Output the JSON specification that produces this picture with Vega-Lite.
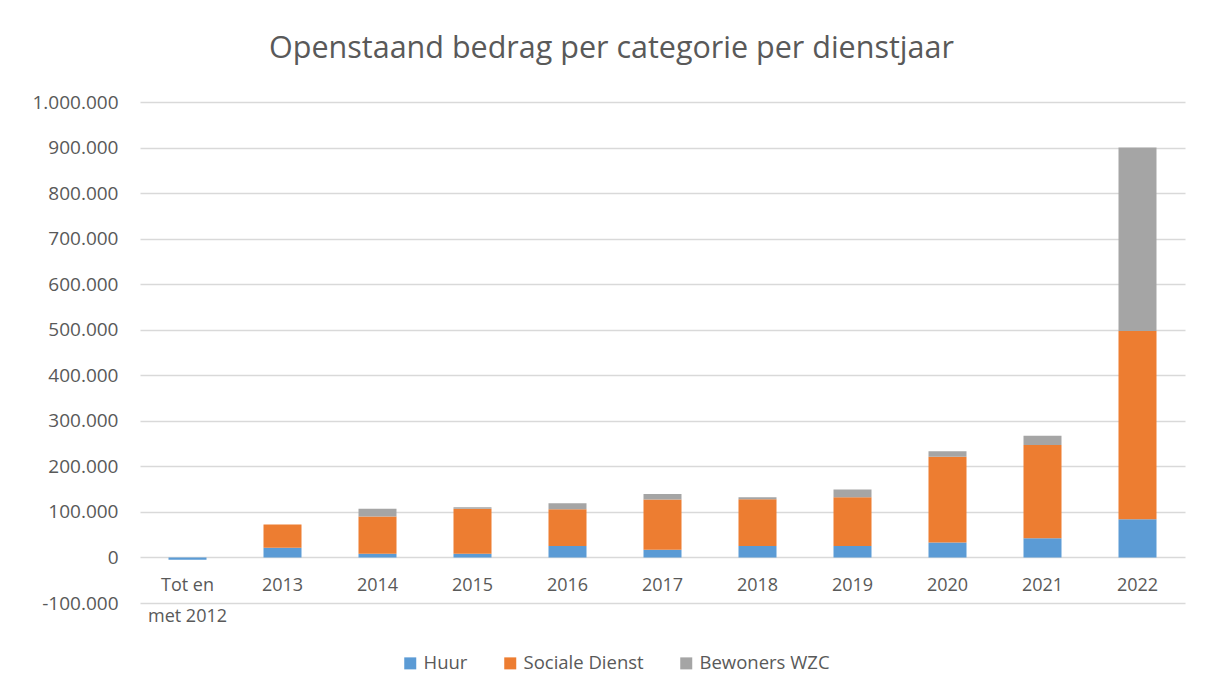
{
  "$schema": "https://vega.github.io/schema/vega-lite/v6.json",
  "autosize": "none",
  "width": 1045,
  "height": 501,
  "padding": {"left": 140, "top": 102, "right": 25, "bottom": 95},
  "background": "white",
  "config": {
    "font": "Open Sans",
    "view": {"stroke": null},
    "locale": {"number": {"decimal": ",", "thousands": ".", "grouping": [3], "currency": ["€", ""], "minus": "-"}}
  },
  "title": {
    "text": "Openstaand bedrag per categorie per dienstjaar",
    "fontSize": 30.5,
    "fontWeight": "normal",
    "color": "#595959",
    "anchor": "middle",
    "dx": -51,
    "offset": 29
  },
  "data": {
    "values": [
      {"jaar": "Tot en met 2012", "cat": "Huur", "bedrag": -5000},
      {"jaar": "Tot en met 2012", "cat": "Sociale Dienst", "bedrag": 0},
      {"jaar": "Tot en met 2012", "cat": "Bewoners WZC", "bedrag": 0},
      {"jaar": "2013", "cat": "Huur", "bedrag": 21500},
      {"jaar": "2013", "cat": "Sociale Dienst", "bedrag": 51000},
      {"jaar": "2013", "cat": "Bewoners WZC", "bedrag": 0},
      {"jaar": "2014", "cat": "Huur", "bedrag": 8000},
      {"jaar": "2014", "cat": "Sociale Dienst", "bedrag": 82000},
      {"jaar": "2014", "cat": "Bewoners WZC", "bedrag": 17000},
      {"jaar": "2015", "cat": "Huur", "bedrag": 8000},
      {"jaar": "2015", "cat": "Sociale Dienst", "bedrag": 99000},
      {"jaar": "2015", "cat": "Bewoners WZC", "bedrag": 3000},
      {"jaar": "2016", "cat": "Huur", "bedrag": 25000},
      {"jaar": "2016", "cat": "Sociale Dienst", "bedrag": 81000},
      {"jaar": "2016", "cat": "Bewoners WZC", "bedrag": 13000},
      {"jaar": "2017", "cat": "Huur", "bedrag": 17000},
      {"jaar": "2017", "cat": "Sociale Dienst", "bedrag": 110000},
      {"jaar": "2017", "cat": "Bewoners WZC", "bedrag": 12500},
      {"jaar": "2018", "cat": "Huur", "bedrag": 25000},
      {"jaar": "2018", "cat": "Sociale Dienst", "bedrag": 103000},
      {"jaar": "2018", "cat": "Bewoners WZC", "bedrag": 4000},
      {"jaar": "2019", "cat": "Huur", "bedrag": 25000},
      {"jaar": "2019", "cat": "Sociale Dienst", "bedrag": 107000},
      {"jaar": "2019", "cat": "Bewoners WZC", "bedrag": 17000},
      {"jaar": "2020", "cat": "Huur", "bedrag": 33000},
      {"jaar": "2020", "cat": "Sociale Dienst", "bedrag": 188000},
      {"jaar": "2020", "cat": "Bewoners WZC", "bedrag": 12000},
      {"jaar": "2021", "cat": "Huur", "bedrag": 42000},
      {"jaar": "2021", "cat": "Sociale Dienst", "bedrag": 205000},
      {"jaar": "2021", "cat": "Bewoners WZC", "bedrag": 20000},
      {"jaar": "2022", "cat": "Huur", "bedrag": 84000},
      {"jaar": "2022", "cat": "Sociale Dienst", "bedrag": 413000},
      {"jaar": "2022", "cat": "Bewoners WZC", "bedrag": 403000}
    ]
  },
  "transform": [
    {"calculate": "indexof(['Huur','Sociale Dienst','Bewoners WZC'], datum.cat)", "as": "volgorde"}
  ],
  "mark": {"type": "bar"},
  "encoding": {
    "x": {
      "field": "jaar",
      "type": "nominal",
      "sort": null,
      "title": null,
      "scale": {"paddingInner": 0.6, "paddingOuter": 0.3},
      "axis": {
        "offset": -45.5,
        "domain": false,
        "ticks": false,
        "labelAngle": 0,
        "labelFontSize": 18,
        "labelColor": "#595959",
        "labelPadding": 19,
        "labelLineHeight": 31,
        "labelExpr": "datum.label == 'Tot en met 2012' ? ['Tot en', 'met 2012'] : datum.label"
      }
    },
    "y": {
      "field": "bedrag",
      "type": "quantitative",
      "stack": "zero",
      "title": null,
      "scale": {"domain": [-100000, 1000000], "nice": false, "zero": false},
      "axis": {
        "values": [-100000, 0, 100000, 200000, 300000, 400000, 500000, 600000, 700000, 800000, 900000, 1000000],
        "format": ",d",
        "domain": false,
        "ticks": false,
        "labelFontSize": 19,
        "labelColor": "#595959",
        "labelPadding": 22,
        "gridColor": "#d9d9d9",
        "gridWidth": 1.3
      }
    },
    "color": {
      "field": "cat",
      "type": "nominal",
      "sort": ["Huur", "Sociale Dienst", "Bewoners WZC"],
      "scale": {"domain": ["Huur", "Sociale Dienst", "Bewoners WZC"], "range": ["#5B9BD5", "#ED7D31", "#A5A5A5"]},
      "legend": {
        "title": null,
        "orient": "none",
        "direction": "horizontal",
        "legendX": 261,
        "legendY": 552,
        "symbolType": "square",
        "symbolSize": 144,
        "symbolStrokeWidth": 0,
        "labelFontSize": 18.5,
        "labelColor": "#595959",
        "labelOffset": 4,
        "columnPadding": 33
      }
    },
    "order": {"field": "volgorde", "type": "quantitative"}
  }
}
